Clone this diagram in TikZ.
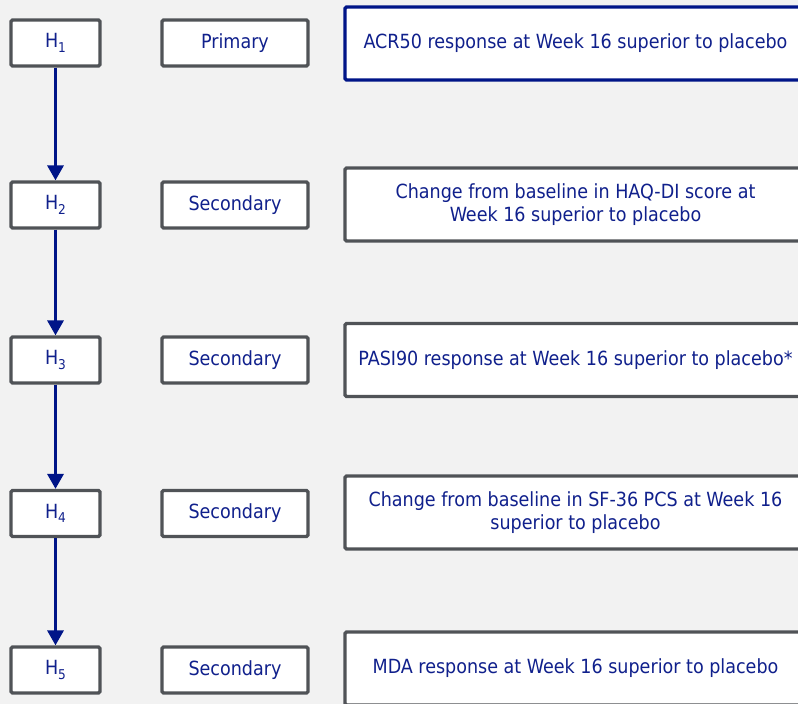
\documentclass[tikz,border=0pt]{standalone}
\usepackage{fontspec}
\setmainfont{DejaVu Sans Condensed}
\usetikzlibrary{arrows.meta}
\definecolor{navyline}{RGB}{0,21,136}
\definecolor{navytext}{RGB}{16,32,140}
\definecolor{boxgray}{RGB}{80,83,87}
\definecolor{paper}{RGB}{242,242,242}
\newcommand{\hyplabel}[1]{H\raisebox{-4.5bp}{\fontsize{13.5bp}{13.5bp}\selectfont #1}}

\begin{document}
\begin{tikzpicture}[
        x=1bp, y=-1bp,
        base/.style={draw=boxgray, line width=3.2bp, fill=white, rounded corners=1.5bp,
                text=navytext, align=center, inner sep=0pt,
                font=\fontsize{19.5bp}{23.3bp}\selectfont}, % общий стиль рамок
        hyp/.style={base, minimum width=89bp, minimum height=46bp},
        level/.style={base, minimum width=146bp, minimum height=46bp},
        claim/.style={base, minimum width=461bp, minimum height=73bp},
        flow/.style={draw=navyline, line width=3.2bp, -{Triangle[width=16bp,length=15bp]}},
    ]
    \clip (0,0) rectangle (798,704);
    \fill[paper] (0,0) rectangle (798,704);

    % гипотезы
    \node[hyp] (h1) at (55.5,43) {\hyplabel{1}};
    \node[hyp] (h2) at (55.5,205) {\hyplabel{2}};
    \node[hyp] (h3) at (55.5,360) {\hyplabel{3}};
    \node[hyp] (h4) at (55.5,513.5) {\hyplabel{4}};
    \node[hyp] (h5) at (55.5,670) {\hyplabel{5}};

    % уровень
    \node[level] (l1) at (235,43) {Primary};
    \node[level] (l2) at (235,205) {Secondary};
    \node[level] (l3) at (235,360) {Secondary};
    \node[level] (l4) at (235,513.5) {Secondary};
    \node[level] (l5) at (235,670) {Secondary};

    % конечные точки
    \node[claim, draw=navyline] (c1) at (575.5,43.5) {ACR50 response at Week 16 superior to placebo};
    \node[claim] (c2) at (575.5,204.5) {Change from baseline in HAQ-DI score at\\Week 16 superior to placebo};
    \node[claim] (c3) at (575.5,360) {PASI90 response at Week 16 superior to placebo*};
    \node[claim] (c4) at (575.5,512.5) {Change from baseline in SF-36 PCS at Week 16\\superior to placebo};
    \node[claim] (c5) at (575.5,668.5) {MDA response at Week 16 superior to placebo};

    % порядок проверки
    \foreach \a/\b in {h1/h2, h2/h3, h3/h4, h4/h5}
        \draw[flow] (\a) -- (\b);
\end{tikzpicture}
\end{document}
